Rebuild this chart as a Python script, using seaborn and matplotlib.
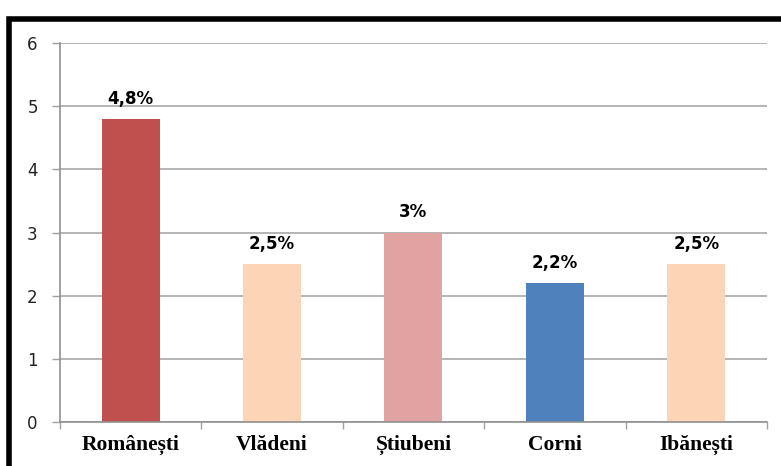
import matplotlib
matplotlib.use('Agg')
import matplotlib.pyplot as plt
import seaborn as sns
import pandas as pd
from matplotlib.patches import Rectangle

# Chart data
localities = ['Românești', 'Vlădeni', 'Știubeni', 'Corni', 'Ibănești']
percentages = [4.8, 2.5, 3.0, 2.2, 2.5]
value_labels = ['4,8%', '2,5%', '3%', '2,2%', '2,5%']
bar_colors = ['#C0504D', '#FBD5B5', '#E0A3A2', '#4F81BD', '#FBD5B5']
y_ticks = [0, 1, 2, 3, 4, 5, 6]

df = pd.DataFrame({'Localitate': localities, 'Procent': percentages})

sns.set_style('white')
fig = plt.figure(figsize=(7.81, 4.66), dpi=100)
ax = fig.add_axes([0.0768, 0.0944, 0.9052, 0.8133])

sns.barplot(data=df, x='Localitate', y='Procent', hue='Localitate',
            palette=bar_colors, width=0.41, legend=False, ax=ax,
            saturation=1, edgecolor='none')

# value labels above bars
for i, (v, lab) in enumerate(zip(percentages, value_labels)):
    ax.annotate(lab, (i, v), xytext=(0, 8), textcoords='offset points',
                ha='center', va='bottom', fontsize=12, fontweight='bold',
                family='DejaVu Sans', color='black')

ax.set_ylim(0, 6)
ax.set_xlim(-0.5, len(localities) - 0.5)
ax.set_yticks(y_ticks)
ax.tick_params(axis='y', left=True, labelsize=12, length=6, width=1,
               color='#A0A0A0', labelcolor='#222222', pad=10)
ax.yaxis.grid(True, color='#A8A8A8', linewidth=1.2)
ax.set_axisbelow(True)

# category boundary ticks on x axis
ax.set_xticks(range(len(localities)))
ax.set_xticklabels(localities, family='Liberation Serif', fontweight='bold',
                   fontsize=15.5, color='black')
ax.set_xticks([i - 0.5 for i in range(len(localities) + 1)], minor=True)
ax.tick_params(axis='x', which='major', length=0, pad=9)
ax.tick_params(axis='x', which='minor', bottom=True, length=5, width=1,
               color='#A0A0A0')
ax.set_xlabel('')
ax.set_ylabel('')

for side in ['top', 'right']:
    ax.spines[side].set_visible(False)
for side in ['left', 'bottom']:
    ax.spines[side].set_color('#909090')
    ax.spines[side].set_linewidth(1.2)

# outer black frame
fig.patches.append(Rectangle((0.0115, -0.05), 1.1, 1.01, transform=fig.transFigure,
                             fill=False, edgecolor='black', linewidth=4))

fig.savefig('out.png', dpi=100)
